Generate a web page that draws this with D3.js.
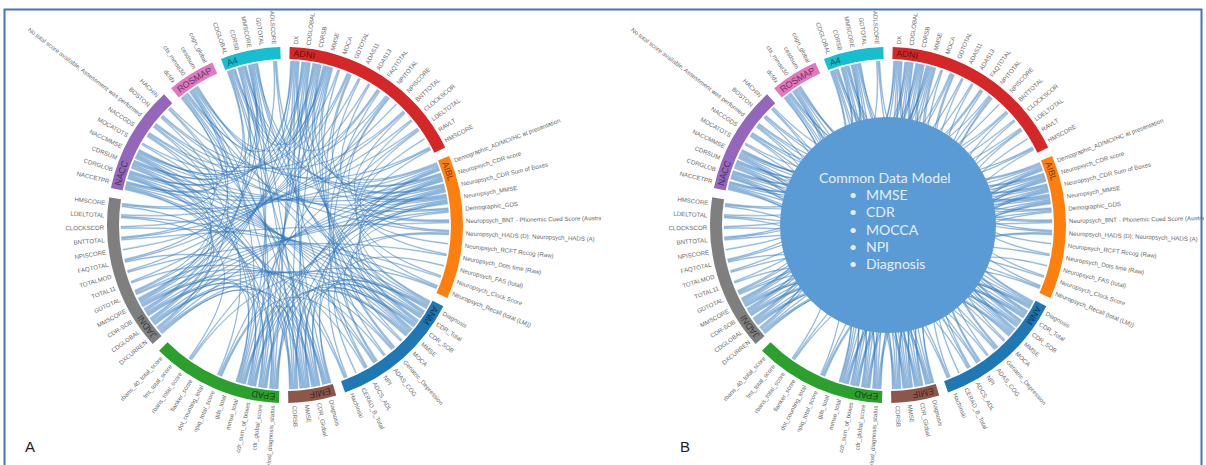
<!DOCTYPE html>
<html>
<head>
<meta charset="utf-8">
<script src="https://cdn.jsdelivr.net/npm/d3@7"></script>
<style>
  html, body { margin: 0; padding: 0; background: #fff; }
  svg { display: block; }
</style>
</head>
<body>
<svg id="chart" width="1206" height="465"></svg>
<script>
// Cohorts around the ring, clockwise from the top
const groupNames = ["ADNI", "AIBL", "ANM", "EMIF", "EPAD", "JADNI", "NACC", "ROSMAP", "A4"];

// Variables of each cohort and the shared concept each one maps to ("" = unmapped)
const adniItems = ["DX", "CDGLOBAL", "CDRSB", "MMSE", "MOCA", "GDTOTAL", "ADAS11", "ADAS13", "FAQTOTAL",
  "NPITOTAL", "NPISCORE", "BNTTOTAL", "CLOCKSCOR", "LDELTOTAL", "RAVLT", "HMSCORE"];
const adniConcepts = ["DX", "CDR", "CDRSB", "MMSE", "MOCA", "GDS", "ADAS", "ADAS13", "FAQ",
  "NPI", "NPIQ", "BNT", "CLOCK", "LM", "RAVLT", "HACH"];

const aiblItems = ["Demographic_AD/MCI/HC at presentation", "Neuropsych_CDR score", "Neuropsych_CDR Sum of Boxes",
  "Neuropsych_MMSE", "Demographic_GDS", "Neuropsych_BNT - Phonemic Cued Score (Australian)",
  "Neuropsych_HADS (D); Neuropsych_HADS (A)", "Neuropsych_RCFT Recog (Raw)", "Neuropsych_Dots time (Raw)",
  "Neuropsych_FAS (total)", "Neuropsych_Clock Score", "Neuropsych_Recall (total (LM))"];
const aiblConcepts = ["DX", "CDR", "CDRSB", "MMSE", "GDS", "BNT", "NPI", "RAVLT", "ADAS13", "FAS", "CLOCK", "LM"];

const anmItems = ["Diagnosis", "CDR_Total", "CDR_SOB", "MMSE", "MOCA", "Geriatric_Depression", "ADAS_COG",
  "NPI", "ADCS_ADL", "CERAD_B_Total", "Hachinski"];
const anmConcepts = ["DX", "CDR", "CDRSB", "MMSE", "MOCA", "GDS", "ADAS", "NPI", "FAQ", "FAS", "HACH"];

const emifItems = ["Diagnosis", "CDR_Global", "MMSE", "CDRSB"];
const emifConcepts = ["DX", "CDR", "MMSE", "CDRSB"];

const epadItems = ["amyloid_diagnosis_status", "cdr_global_score", "cdr_sum_of_boxes", "mmse_total", "gds_total",
  "npiq_total_score", "dot_counting_total", "flanker_score", "rbans_total_score", "fmt_total_score",
  "rbans_40_total_score"];
const epadConcepts = ["DX", "CDR", "CDRSB", "MMSE", "", "NPI", "", "", "LM", "", ""];

const jadniItems = ["DXCURREN", "CDGLOBAL", "CDR-SOB", "MMSCORE", "GDTOTAL", "TOTAL11", "TOTALMOD", "FAQTOTAL",
  "NPISCORE", "BNTTOTAL", "CLOCKSCOR", "LDELTOTAL", "HMSCORE"];
const jadniConcepts = ["DX", "CDR", "CDRSB", "MMSE", "GDS", "ADAS", "ADAS13", "FAQ", "NPIQ", "BNT", "CLOCK", "LM", "HACH"];

const naccItems = ["NACCETPR", "CDRGLOB", "CDRSUM", "NACCMMSE", "MOCATOTS", "NACCGDS",
  "No total score available, Assessment was performed", "BOSTON", "HACHIN"];
const naccConcepts = ["DX", "CDR", "CDRSB", "MMSE", "MOCA", "GDS", "NPI", "BNT", "HACH"];

const rosmapItems = ["dcfdx", "cts_mmse30", "cesdsum", "cogn_global"];
const rosmapConcepts = ["DX", "MMSE", "", ""];

const a4Items = ["CDGLOBAL", "CDRSB", "MMSCORE", "GDTOTAL", "ADLSCORE"];
const a4Concepts = ["CDR", "CDRSB", "MMSE", "", "FAQ"];

// Contents of the common data model
const cdmTitle = "Common Data Model";
const cdmItems = ["MMSE", "CDR", "MOCCA", "NPI", "Diagnosis"];

const panelLetters = ["A", "B"];

const groupItems = [adniItems, aiblItems, anmItems, emifItems, epadItems, jadniItems, naccItems, rosmapItems, a4Items];
const groupConcepts = [adniConcepts, aiblConcepts, anmConcepts, emifConcepts, epadConcepts, jadniConcepts,
  naccConcepts, rosmapConcepts, a4Concepts];

// ---- styling ----
const cat = d3.schemeCategory10;
const color = d3.scaleOrdinal()
  .domain(groupNames)
  .range([cat[3], cat[1], cat[0], cat[5], cat[2], cat[7], cat[4], cat[6], cat[9]]);

const rInner = 166, rOuter = 178, rRibbon = 164, rLabel = 181;
const padUnits = 0.77;          // gap between cohorts, in item widths
const linkWidth = 0.0058;       // angular width of one link end (rad)
const linkGap = 0.0022;         // spacing between neighbouring link ends (rad)

// ---- layout ----
const totalUnits = d3.sum(groupItems, d => d.length) + groupNames.length * padUnits;
const angle = d3.scaleLinear().domain([0, totalUnits]).range([0, 2 * Math.PI]);

let cursor = 0;
const groups = groupNames.map((name, gi) => {
  const start = cursor + padUnits / 2;
  const n = groupItems[gi].length;
  const g = { name, index: gi, startAngle: angle(start), endAngle: angle(start + n) };
  g.items = groupItems[gi].map((label, k) => ({
    label, concept: groupConcepts[gi][k], group: gi,
    startAngle: angle(start + k), endAngle: angle(start + k + 1),
    mid: angle(start + k + 0.5), links: []
  }));
  cursor += n + padUnits;
  return g;
});
const allItems = groups.flatMap(g => g.items);

// links between variables sharing a concept in different cohorts
const links = [];
allItems.forEach((a, i) => {
  if (!a.concept) return;
  for (let j = i + 1; j < allItems.length; j++) {
    const b = allItems[j];
    if (b.group !== a.group && b.concept === a.concept) {
      const l = { a, b };
      links.push(l);
      a.links.push({ link: l, other: b });
      b.links.push({ link: l, other: a });
    }
  }
});

// place link ends side by side inside each variable's slot
const TAU = 2 * Math.PI;
const step = linkWidth + linkGap;
allItems.forEach(it => {
  it.links.sort((p, q) => ((q.other.mid - it.mid + TAU) % TAU) - ((p.other.mid - it.mid + TAU) % TAU));
  const k = it.links.length;
  it.links.forEach((e, s) => {
    const s0 = it.mid - (k * step - linkGap) / 2 + s * step;
    const end = { startAngle: s0, endAngle: s0 + linkWidth };
    if (e.link.a === it) e.link.aEnd = end; else e.link.bEnd = end;
  });
});

const ribbon = d3.ribbon().radius(rRibbon);
const arc = d3.arc().innerRadius(rInner).outerRadius(rOuter);
const deg = r => r * 180 / Math.PI;

const svg = d3.select("#chart");
svg.append("rect").attr("width", 1206).attr("height", 465).attr("fill", "#fff");

const defs = svg.append("defs");

function drawPanel(pi, cx, cy, withModel) {
  defs.append("clipPath").attr("id", "clip" + pi)
    .append("rect").attr("x", -280).attr("y", -220).attr("width", 596).attr("height", 245 + 220);

  const g = svg.append("g")
    .attr("transform", `translate(${cx},${cy})`)
    .attr("clip-path", `url(#clip${pi})`);

  // chords
  g.append("g")
    .selectAll("path")
    .data(links)
    .join("path")
    .attr("d", l => ribbon({ source: l.aEnd, target: l.bEnd }))
    .attr("fill", "#4a8fcc")
    .attr("fill-opacity", 0.45)
    .attr("stroke", "#2f74b6")
    .attr("stroke-opacity", 0.5)
    .attr("stroke-width", 0.5);

  // cohort arcs
  g.append("g")
    .selectAll("path")
    .data(groups)
    .join("path")
    .attr("d", arc)
    .attr("fill", d => color(d.name));

  // cohort names along the arcs
  const rMid = (rInner + rOuter) / 2;
  groups.forEach(gr => {
    const p = d3.path();
    p.arc(0, 0, rMid, gr.startAngle - Math.PI / 2, gr.endAngle - Math.PI / 2);
    defs.append("path").attr("id", `gp${pi}-${gr.index}`).attr("d", p.toString());
  });
  g.append("g")
    .selectAll("text")
    .data(groups)
    .join("text")
    .attr("dy", "0.36em")
    .attr("font-family", "Liberation Sans, Arial, sans-serif")
    .attr("font-size", 9)
    .attr("fill", d => d3.color(color(d.name)).darker(2.2))
    .append("textPath")
    .attr("href", d => `#gp${pi}-${d.index}`)
    .attr("startOffset", 4)
    .text(d => d.name);

  // variable labels
  g.append("g")
    .selectAll("text")
    .data(allItems)
    .join("text")
    .attr("transform", d => {
      const a = deg(d.mid);
      return `rotate(${a - 90}) translate(${rLabel},0)` + (a > 180 ? " rotate(180)" : "");
    })
    .attr("text-anchor", d => deg(d.mid) > 180 ? "end" : "start")
    .attr("dy", "0.35em")
    .attr("font-family", "Liberation Sans, Arial, sans-serif")
    .attr("font-size", 6.1)
    .attr("fill", "#6a6a6a")
    .text(d => d.label);

  if (withModel) {
    const m = g.append("g");
    m.append("circle").attr("r", 108).attr("fill", "#5b9bd5");
    const font = "Lato, 'Open Sans', sans-serif";
    m.append("text")
      .attr("x", -69).attr("y", -42)
      .attr("font-family", font).attr("font-size", 14)
      .attr("fill", "#e6edf7")
      .text(cdmTitle);
    const rows = m.selectAll("g.row").data(cdmItems).join("g").attr("class", "row")
      .attr("transform", (d, i) => `translate(0,${-25 + i * 17.3})`);
    rows.append("text").attr("x", -39).attr("font-family", font).attr("font-size", 14)
      .attr("fill", "#e6edf7").text("•");
    rows.append("text").attr("x", -22).attr("font-family", font).attr("font-size", 14)
      .attr("fill", "#e6edf7").text(d => d);
  }
}

drawPanel(0, 285, 225, false);
drawPanel(1, 888, 225, true);

// panel letters
svg.selectAll("text.letter")
  .data(panelLetters)
  .join("text")
  .attr("class", "letter")
  .attr("x", (d, i) => i === 0 ? 25 : 680)
  .attr("y", 452)
  .attr("font-family", "Liberation Sans, Arial, sans-serif")
  .attr("font-size", 15)
  .attr("fill", "#222")
  .text(d => d);

// frame
svg.append("path")
  .attr("d", "M4.5,465 V9.5 H1201.5 V465")
  .attr("fill", "none")
  .attr("stroke", "#4472c4")
  .attr("stroke-width", 2);
</script>
</body>
</html>
